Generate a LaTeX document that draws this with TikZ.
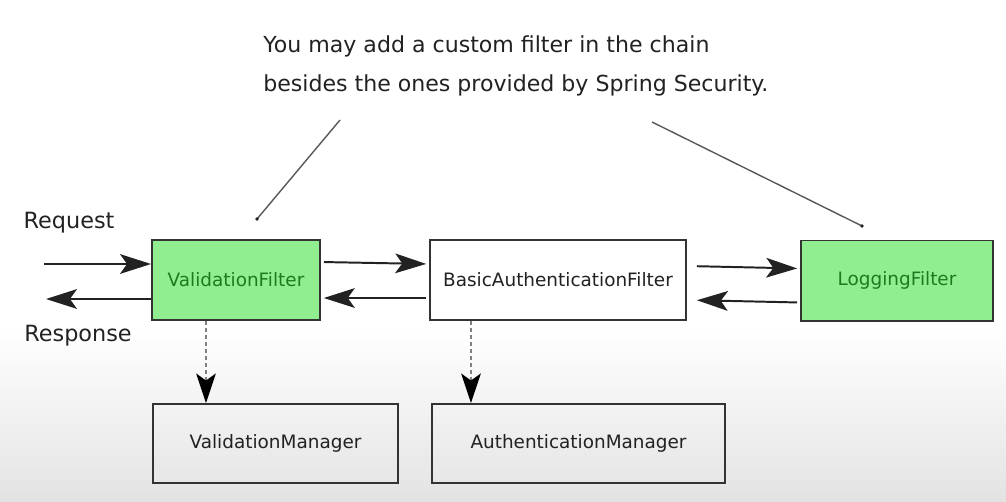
\documentclass[tikz,border=0pt]{standalone}
\usepackage{fontspec}
\setmainfont{DejaVu Sans}
\usetikzlibrary{arrows.meta}
\definecolor{filtergreen}{HTML}{90EE90}
\definecolor{labelgreen}{HTML}{1F7A1F}
\definecolor{boxline}{HTML}{333333}
\definecolor{inkgray}{HTML}{222222}

\begin{document}
\begin{tikzpicture}[x=0.025cm, y=-0.025cm,
    box/.style={draw=boxline, line width=1.4pt, inner sep=0pt,
      font=\fontsize{13.1}{15}\selectfont, text=inkgray},
    greenbox/.style={box, fill=filtergreen, text=labelgreen},
    flow/.style={line width=1.4pt, draw=inkgray,
      -{Stealth[length=22pt, width=14pt, inset=5pt]}},
    uses/.style={line width=0.8pt, draw=gray, densely dashed,
      -{Stealth[length=21pt, width=14pt, inset=5pt, color=black, fill=black]}},
    callout/.style={line width=1pt, draw=gray!70!black}]
      \fill[white] (0,0) rectangle (1006,501);
      \shade[top color=white, bottom color=black!11] (0,330) rectangle (1006,501);
      \node[anchor=north west, inner sep=0pt, align=left, text=inkgray,
        font=\fontsize{15.7}{28.4}\selectfont] (note) at (263,35)
        {You may add a custom filter in the chain\\besides the ones provided by Spring Security.};
      \node[greenbox, minimum width=4.2cm, minimum height=2cm] (vf) at (236,280) {ValidationFilter};
      \node[box, fill=white, minimum width=6.4cm, minimum height=2cm] (baf) at (558,280) {BasicAuthenticationFilter};
      \node[greenbox, minimum width=4.8cm, minimum height=2cm] (lf) at (897,280.5) {LoggingFilter};
      \node[box, minimum width=6.125cm, minimum height=1.975cm] (vm) at (275.5,443.5) {ValidationManager};
      \node[box, minimum width=7.325cm, minimum height=1.975cm] (am) at (578.5,443.5) {AuthenticationManager};
      \node[text=inkgray, font=\fontsize{15.9}{18}\selectfont] (req) at (69,223) {Request};
      \node[text=inkgray, font=\fontsize{15.9}{18}\selectfont] (resp) at (78,336) {Response};
      \coordinate (reqin) at (44,264);
      \coordinate (respout) at (46,299);
      \draw[flow] (reqin) -- ([yshift=0.4cm]vf.west);
      \draw[flow] ([yshift=-0.475cm]vf.west) -- (respout);
      \draw[flow, shorten <=2pt, shorten >=2pt] ([yshift=0.45cm]vf.east) -- ([yshift=0.4cm]baf.west);
      \draw[flow, shorten <=2pt, shorten >=2pt] ([yshift=-0.45cm]baf.west) -- ([yshift=-0.45cm]vf.east);
      \draw[flow, shorten <=7pt, shorten >=2pt] ([yshift=0.35cm]baf.east) -- ([yshift=0.3cm]lf.west);
      \draw[flow, shorten <=2pt, shorten >=7pt] ([yshift=-0.55cm]lf.west) -- ([yshift=-0.5cm]baf.east);
      \draw[uses] ([xshift=-0.75cm]vf.south) -- ([xshift=-0.75cm]vf.south |- vm.north);
      \draw[uses] ([xshift=-2.175cm]baf.south) -- ([xshift=-2.175cm]baf.south |- am.north);
      \coordinate (leftfrom) at (340,120);
      \coordinate (leftto) at (257,219);
      \coordinate (rightfrom) at (652,122);
      \coordinate (rightto) at (862,226);
      \draw[callout] (leftfrom) -- (leftto);
      \draw[callout] (rightfrom) -- (rightto);
      \fill[inkgray] (leftto) circle (1.4pt);
      \fill[inkgray] (rightto) circle (1.4pt);
    \end{tikzpicture}
\end{document}
